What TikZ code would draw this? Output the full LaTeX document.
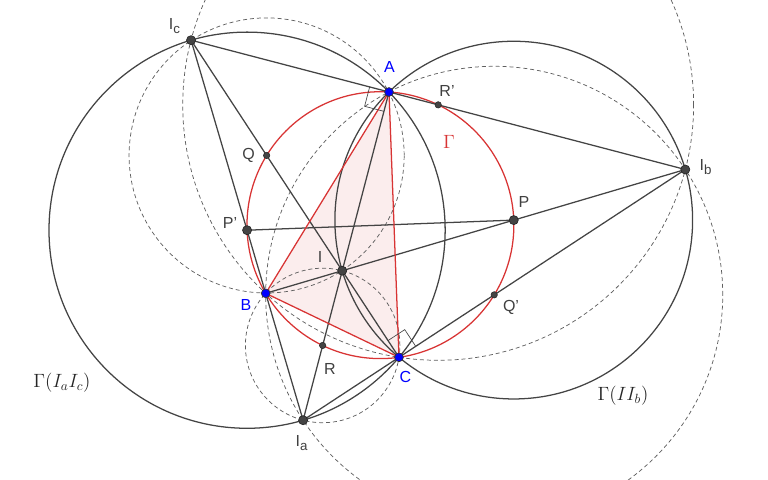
\documentclass[tikz,border=0pt]{standalone}
\usepackage{fontspec}
\setsansfont{Liberation Sans}
\usetikzlibrary{calc}
\definecolor{ln}{RGB}{68,68,68}
\definecolor{dsh}{RGB}{95,95,95}
\definecolor{gred}{RGB}{216,52,52}
\definecolor{gblue}{RGB}{0,0,255}
\definecolor{lbl}{RGB}{64,64,64}
\definecolor{ptc}{RGB}{68,68,68}
\definecolor{pinkfill}{RGB}{251,237,237}
\newcommand{\lsub}[1]{\raisebox{-0.45ex}{\fontsize{10}{12}\selectfont #1}}
\begin{document}
\begin{tikzpicture}[x=0.75pt,y=-0.75pt,
  solidln/.style={draw=ln,line width=0.95pt},
  dashln/.style={draw=dsh,line width=0.55pt,dash pattern=on 3pt off 2.2pt},
  redln/.style={draw=gred,line width=0.95pt},
  bigpt/.style={circle,fill=ptc,draw=black!85,line width=0.5pt,inner sep=0pt,minimum size=6.8pt},
  smallpt/.style={circle,fill=ptc,draw=black!85,line width=0.4pt,inner sep=0pt,minimum size=4.8pt},
  bluept/.style={circle,fill=gblue,draw=black!80,line width=0.5pt,inner sep=0pt,minimum size=6.6pt},
  lab/.style={text=lbl,inner sep=0pt,font=\sffamily\fontsize{12}{14}\selectfont},
  blab/.style={lab,text=gblue},
  mlab/.style={text=black!85,inner sep=0pt,font=\fontsize{14}{16}\selectfont}]
\path[use as bounding box] (0,0) rectangle (768,479);
% points
\coordinate (A) at (389,92);
\coordinate (B) at (265.7,293.3);
\coordinate (C) at (399,357.3);
\coordinate (I) at (342.2,270.7);
\coordinate (Ia) at (303.1,420.2);
\coordinate (Ib) at (685.3,169.5);
\coordinate (Ic) at (191.05,40.2);
\coordinate (P) at ($(I)!0.5!(Ib)$);
\coordinate (Pp) at ($(Ia)!0.5!(Ic)$);
\coordinate (Q) at ($(I)!0.5!(Ic)$);
\coordinate (Qp) at ($(Ia)!0.5!(Ib)$);
\coordinate (R) at ($(I)!0.5!(Ia)$);
\coordinate (Rp) at ($(Ib)!0.5!(Ic)$);
\coordinate (O) at (380.42,225.16);
\begin{scope}
\clip (0,0) rectangle (768,479);
\fill[pinkfill] (A) -- (B) -- (C) -- cycle;
% dashed circles
\draw[dashln] let \p1=($(Ic)-(Q)$) in (Q) circle[radius={veclen(\x1,\y1)}];
\draw[dashln] let \p1=($(Ia)-(R)$) in (R) circle[radius={veclen(\x1,\y1)}];
\draw[dashln] let \p1=($(Ib)-(Qp)$) in (Qp) circle[radius={veclen(\x1,\y1)}];
\draw[dashln] let \p1=($(Ib)-(Rp)$) in (Rp) circle[radius={veclen(\x1,\y1)}];
% solid circles
\draw[solidln] let \p1=($(Ia)-(Pp)$) in (Pp) circle[radius={veclen(\x1,\y1)}];
\draw[solidln] let \p1=($(Ib)-(P)$) in (P) circle[radius={veclen(\x1,\y1)}];
% circumcircle
\draw[redln] let \p1=($(A)-(O)$) in (O) circle[radius={veclen(\x1,\y1)}];
% lines
\draw[solidln] (Ic) -- (Ib);
\draw[solidln] (Ic) -- (C);
\draw[solidln] (Ic) -- (Ia);
\draw[solidln] (B) -- (Ib);
\draw[solidln] (Ia) -- (Ib);
\draw[solidln] (A) -- (Ia);
\draw[solidln] (Pp) -- (P);
% triangle
\draw[redln,line join=round] (A) -- (B) -- (C) -- cycle;
% right angle marks
\coordinate (ra1) at ($(A)!15pt!(Ic)$);
\coordinate (ra2) at ($(A)!15pt!(Ia)$);
\draw[ln,line width=0.5pt] (ra1) -- ($(ra1)+(ra2)-(A)$) -- (ra2);
\coordinate (rc1) at ($(C)!15pt!(I)$);
\coordinate (rc2) at ($(C)!15pt!(Ib)$);
\draw[ln,line width=0.5pt] (rc1) -- ($(rc1)+(rc2)-(C)$) -- (rc2);
\end{scope}
% dots
\node[smallpt] (dQ) at (Q) {};
\node[smallpt] (dQp) at (Qp) {};
\node[smallpt] (dR) at (R) {};
\node[smallpt] (dRp) at (Rp) {};
\node[bigpt] (dP) at (P) {};
\node[bigpt] (dPp) at (Pp) {};
\node[bigpt] (dI) at (I) {};
\node[bigpt] (dIa) at (Ia) {};
\node[bigpt] (dIb) at (Ib) {};
\node[bigpt] (dIc) at (Ic) {};
\node[bluept] (dA) at (A) {};
\node[bluept] (dB) at (B) {};
\node[bluept] (dC) at (C) {};
% labels
\node[blab] (lA) at (389.5,66.5) {A};
\node[blab] (lB) at (246,304.5) {B};
\node[blab] (lC) at (405.5,377) {C};
\node[lab] (lRp) at (447,90.5) {R'};
\node[lab] (lQ) at (248.5,155) {Q};
\node[lab] (lPp) at (230,222.5) {P'};
\node[lab] (lI) at (320,257) {I};
\node[lab] (lR) at (330,368.5) {R};
\node[lab] (lP) at (524,202) {P};
\node[lab] (lQp) at (511,307) {Q'};
\node[lab] (lIa) at (301.5,443) {I\lsub{a}};
\node[lab] (lIb) at (705.5,167) {I\lsub{b}};
\node[lab] (lIc) at (174.5,26) {I\lsub{c}};
\node[text=gred,inner sep=0pt,font=\fontsize{15}{17}\selectfont] (lG) at (449,142) {$\Gamma$};
\node[mlab] (lG1) at (62,383) {$\Gamma(I_aI_c)$};
\node[mlab] (lG2) at (623,396) {$\Gamma(II_b)$};
\end{tikzpicture}
\end{document}
